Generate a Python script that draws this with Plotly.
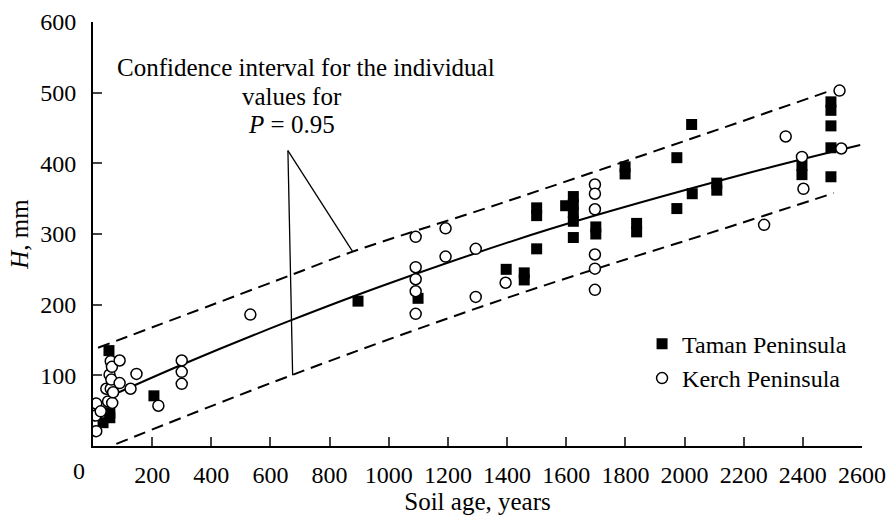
import plotly.graph_objects as go

# Taman Peninsula (filled squares)
taman_age = [34, 57, 57, 54, 206, 896, 1099, 1397, 1458, 1458, 1500, 1500, 1500,
             1598, 1624, 1624, 1624, 1624, 1624, 1700, 1700, 1799, 1799, 1838, 1838,
             1974, 1974, 2024, 2026, 2109, 2109, 2397, 2397, 2495, 2495, 2495, 2495, 2495]
taman_h = [33, 47, 40, 135, 71, 205, 209, 250, 245, 235, 337, 326, 279,
           340, 353, 342, 330, 318, 295, 310, 300, 395, 385, 315, 303,
           408, 336, 455, 357, 372, 362, 397, 384, 487, 475, 453, 422, 381]

# Kerch Peninsula (open circles)
kerch_age = [11, 9, 11, 26, 51, 65, 45, 60, 68, 56, 62, 90, 60, 64, 90, 147, 127, 221,
             300, 300, 300, 532, 1091, 1091, 1091, 1091, 1091, 1192, 1192, 1294, 1294,
             1395, 1697, 1697, 1697, 1697, 1697, 1697, 2269, 2342, 2397, 2402, 2524, 2530]
kerch_h = [60, 43, 21, 49, 63, 61, 81, 81, 76, 101, 94, 89, 120, 112, 121, 102, 81, 57,
           121, 105, 88, 186, 296, 253, 236, 219, 187, 308, 268, 279, 211,
           231, 370, 357, 335, 271, 251, 221, 313, 438, 409, 364, 503, 421]

# Regression curve
fit_age = [66, 300, 664, 1000, 1545, 2222, 2594]
fit_h = [72, 115, 177, 230, 307, 387, 426]

# Confidence band for individual values, P = 0.95
upper_age = [17, 670, 878, 1376, 2017, 2481]
upper_h = [139, 242, 275, 343, 434, 501]
lower_age = [79, 670, 1410, 2188, 2505]
lower_h = [3, 100, 211, 315, 358]

x_ticks = list(range(0, 2601, 200))
x_ticktext = [""] + [str(v) for v in x_ticks[1:]]
y_ticks = [100, 200, 300, 400, 500, 600]

FONT = "Liberation Serif"
DASH = "12px,7px"

fig = go.Figure()
fig.add_trace(go.Scatter(x=upper_age, y=upper_h, mode="lines", showlegend=False,
                         line=dict(color="black", width=2, dash=DASH, shape="spline")))
fig.add_trace(go.Scatter(x=lower_age, y=lower_h, mode="lines", showlegend=False,
                         line=dict(color="black", width=2, dash=DASH, shape="spline")))
fig.add_trace(go.Scatter(x=fit_age, y=fit_h, mode="lines", showlegend=False,
                         line=dict(color="black", width=2, shape="spline")))
fig.add_trace(go.Scatter(x=taman_age, y=taman_h, mode="markers", name="Taman Peninsula",
                         marker=dict(symbol="square", size=11, color="black",
                                     line=dict(width=0))))
fig.add_trace(go.Scatter(x=kerch_age, y=kerch_h, mode="markers", name="Kerch Peninsula",
                         marker=dict(symbol="circle", size=11, color="white",
                                     line=dict(width=1.5, color="black"))))

# pointer lines of the annotation
fig.add_shape(type="line", xref="x", yref="y", x0=659, y0=418, x1=878, y1=275,
              line=dict(color="black", width=1.3))
fig.add_shape(type="line", xref="x", yref="y", x0=659, y0=418, x1=675, y1=100,
              line=dict(color="black", width=1.3))

afont = dict(family=FONT, size=25, color="black")
fig.add_annotation(xref="x", yref="y", x=74, y=535, xanchor="left", yanchor="middle",
                   text="Confidence interval for the individual", showarrow=False, font=afont)
fig.add_annotation(xref="x", yref="y", x=672, y=495, xanchor="center", yanchor="middle",
                   text="values for", showarrow=False, font=afont)
fig.add_annotation(xref="x", yref="y", x=672, y=455, xanchor="center", yanchor="middle",
                   text="<i>P</i> = 0.95", showarrow=False, font=afont)
# the "0" tick label sits left of the axis corner
fig.add_annotation(xref="paper", yref="paper", x=-0.018, y=0, yshift=-25, xanchor="center",
                   yanchor="middle", text="0", showarrow=False,
                   font=dict(family=FONT, size=24, color="black"))

fig.update_layout(
    width=888, height=517,
    margin=dict(l=93, r=26, t=22, b=71, autoexpand=False),
    paper_bgcolor="white", plot_bgcolor="white",
    font=dict(family=FONT, size=24, color="black"),
    showlegend=True,
    legend=dict(x=0.714, y=0.293, xanchor="left", yanchor="top",
                font=dict(family=FONT, size=24, color="black"),
                bgcolor="rgba(0,0,0,0)", itemwidth=30, tracegroupgap=0),
    xaxis=dict(range=[0, 2600], tickvals=x_ticks, ticktext=x_ticktext, ticks="inside",
               ticklen=9, tickwidth=2, automargin=False,
               showline=True, linewidth=2, linecolor="black", showgrid=False, zeroline=False,
               tickfont=dict(family=FONT, size=24), ticklabelstandoff=6,
               title=dict(text="Soil age, years", font=dict(family=FONT, size=25), standoff=2)),
    yaxis=dict(range=[0, 600], tickvals=y_ticks, ticks="inside", ticklen=9, tickwidth=2,
               automargin=False,
               showline=True, linewidth=2, linecolor="black", showgrid=False, zeroline=False,
               tickfont=dict(family=FONT, size=24), ticklabelstandoff=10,
               title=dict(text="<i>H</i>, mm", font=dict(family=FONT, size=25), standoff=4)),
)

fig.write_html("out.html", config={"displayModeBar": False},
               post_script="document.body.style.margin='0';")
